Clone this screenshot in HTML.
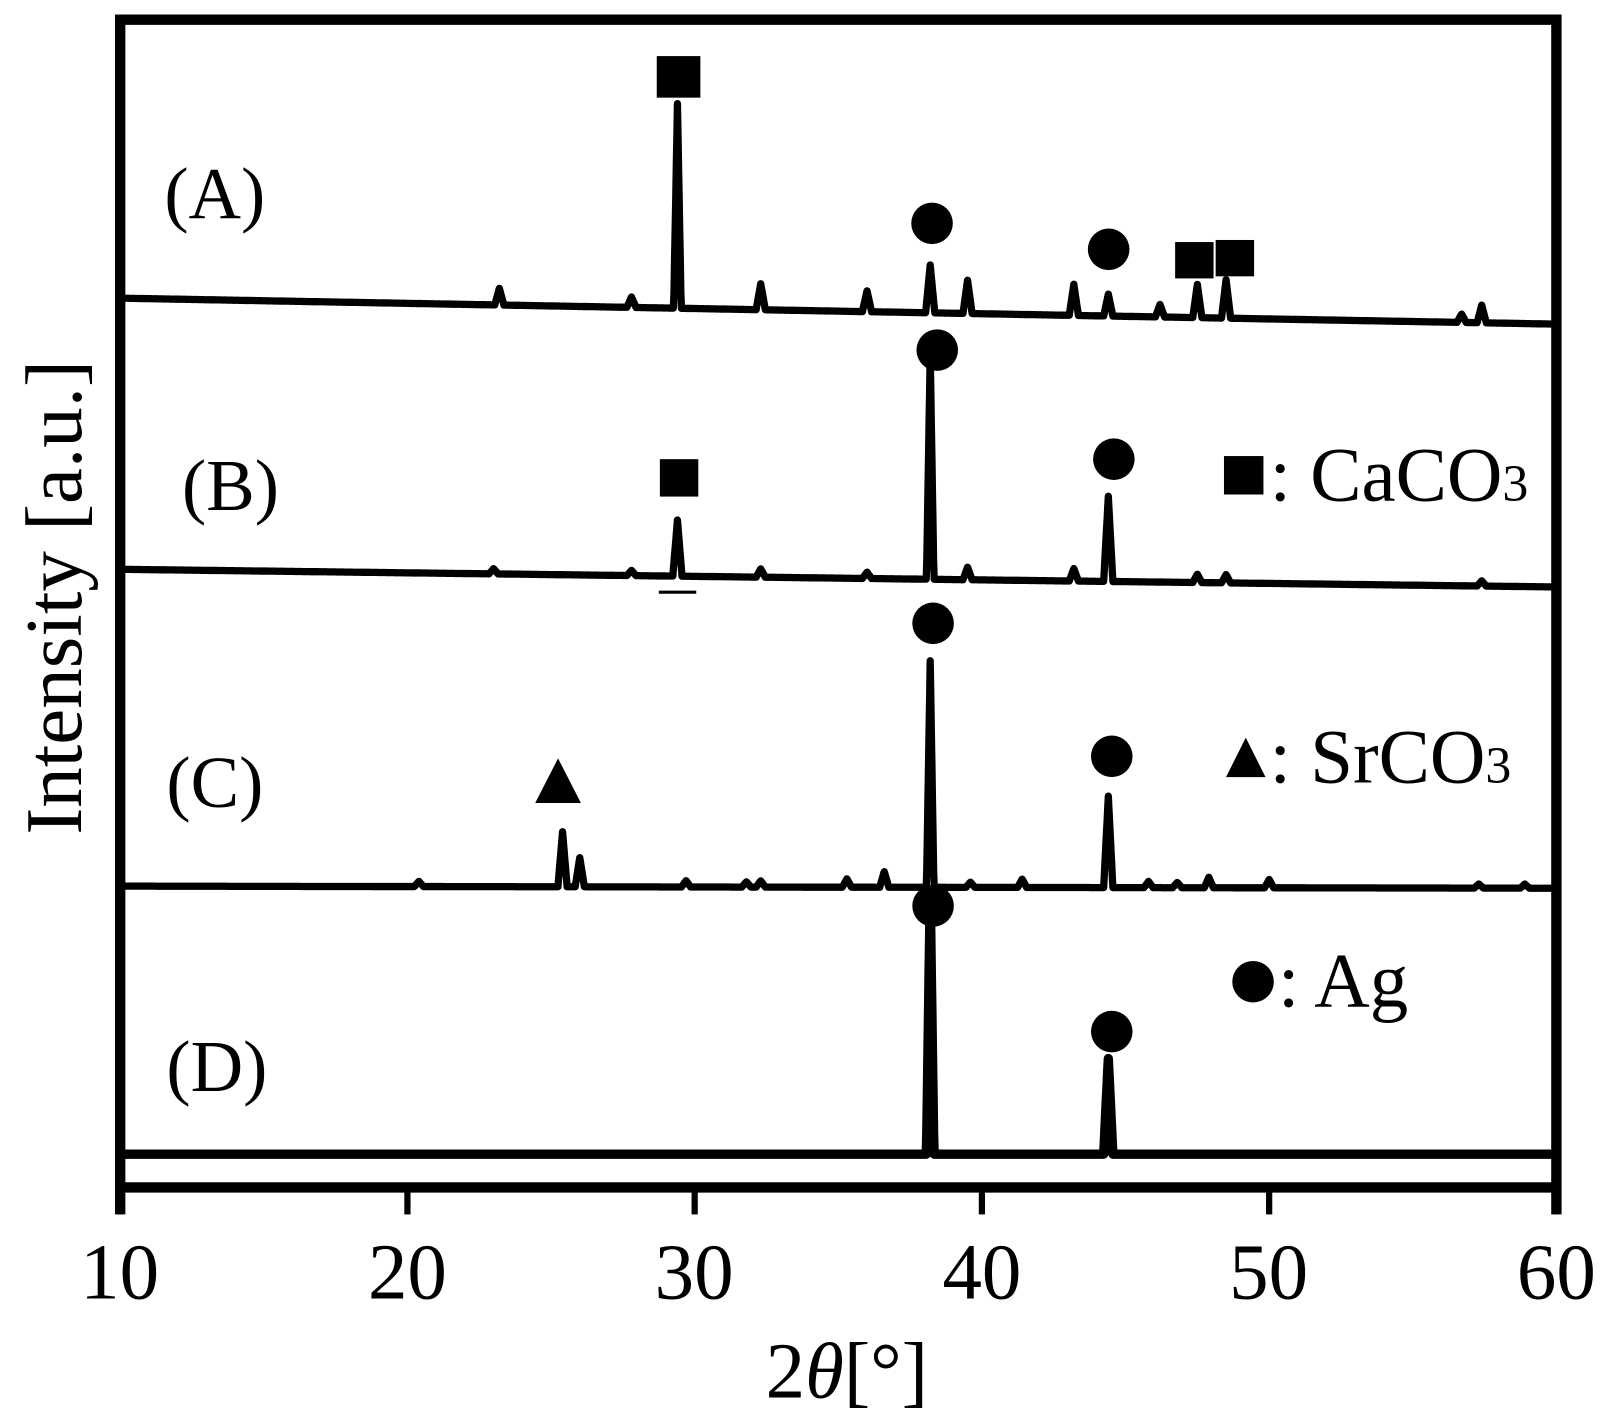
<!DOCTYPE html>
<html><head><meta charset="utf-8">
<style>
html,body{margin:0;padding:0;background:#fff;}
svg{display:block;}
text{font-family:"Liberation Serif",serif;fill:#000;}
</style></head>
<body>
<svg id="s" width="1621" height="1417" viewBox="0 0 1560 1364" xmlns="http://www.w3.org/2000/svg">
<rect x="0" y="0" width="1560" height="1364" fill="#fff"/>
<path d="M115.5,1169 L115.5,19 L1498,19 L1498,1169" fill="none" stroke="#000" stroke-width="10"/>
<line x1="115.5" y1="1143" x2="1498" y2="1143" stroke="#000" stroke-width="10"/>
<g id="ticks" stroke="#000" stroke-width="6"></g>
<g id="series" fill="none" stroke="#000" stroke-linejoin="round"></g>
<line x1="634" y1="570" x2="670" y2="570" stroke="#000" stroke-width="3"/>
<g font-size="76" text-anchor="middle">
<text x="115" y="1250">10</text><text x="392" y="1250">20</text><text x="668" y="1250">30</text>
<text x="945" y="1250">40</text><text x="1221" y="1250">50</text><text x="1498" y="1250">60</text>
</g>
<text x="815" y="1345" font-size="76" text-anchor="middle">2<tspan font-style="italic">θ</tspan>[°]</text>
<text transform="translate(78,575) rotate(-90)" font-size="78" text-anchor="middle">Intensity [a.u.]</text>
<g font-size="70">
<text x="158" y="210">(A)</text><text x="175" y="491">(B)</text>
<text x="160" y="777">(C)</text><text x="160" y="1050">(D)</text>
<text x="1222" y="482" font-size="74">: CaCO<tspan font-size="50">3</tspan></text>
<text x="1222" y="753" font-size="74">: SrCO<tspan font-size="50">3</tspan></text>
<text x="1230" y="969" font-size="74">: Ag</text>
</g>
<g fill="#000">
<rect x="632" y="54" width="42" height="40"/>
<rect x="1131" y="233" width="37" height="35"/>
<rect x="1170" y="231" width="37" height="35"/>
<rect x="635" y="442" width="37" height="36"/>
<rect x="1178" y="439" width="38" height="37"/>
<circle cx="897" cy="215" r="20"/><circle cx="1067" cy="240" r="20"/>
<circle cx="902" cy="337" r="20"/><circle cx="1072" cy="442" r="20"/>
<circle cx="898" cy="600" r="20"/><circle cx="1070" cy="728" r="20"/>
<circle cx="898" cy="872" r="20"/><circle cx="1070" cy="993" r="20"/>
<circle cx="1206" cy="945" r="20"/>
<polygon points="537,730 515,773 559,773"/>
<polygon points="1199,710 1180,748 1218,748"/>
</g>
<script>
(function(){
var X=function(d){return 115.5+(d-10)*27.65;};
var series=[
 {b0:287,b1:312,w:7,pk:[[23.2,16],[27.8,10],[29.4,197],[32.3,25],[36,20],[38.2,46],[39.5,32],[43.2,30],[44.4,21],[46.2,12],[47.5,32],[48.5,37],[56.7,8],[57.4,17]]},
 {b0:548,b1:565,w:7,pk:[[23,5],[27.8,5],[29.4,54],[32.3,8],[36,6],[38.2,217],[39.5,12],[43.2,12],[44.4,82],[47.5,8],[48.5,8],[57.4,5]]},
 {b0:853,b1:855,w:7,pk:[[20.4,5],[25.4,53],[26,28],[29.7,6],[31.8,5],[32.3,6],[35.3,8],[36.6,15],[38.2,218],[39.6,5],[41.4,8],[44.4,88],[45.8,6],[46.8,5],[47.9,10],[50,8],[57.3,4],[58.9,4]]},
 {b0:1111,b1:1111,w:9,pk:[[38.2,252],[44.4,92]]}
];
var g=document.getElementById('series'),ns='http://www.w3.org/2000/svg';
series.forEach(function(s){
 var base=function(d){return s.b0+(s.b1-s.b0)*(d-10)/50;};
 var pts=[];
 for(var d=10;d<=60.001;d+=0.02){
  var y=base(d);
  s.pk.forEach(function(p){var hw=p[1]>100?0.13:0.16;var t=Math.abs(d-p[0])/hw;if(t<1)y-=p[1]*(1-t);});
  pts.push(X(d).toFixed(1)+','+y.toFixed(1));
 }
 var pl=document.createElementNS(ns,'polyline');
 pl.setAttribute('points',pts.join(' '));pl.setAttribute('stroke-width',s.w);
 g.appendChild(pl);
});
var tg=document.getElementById('ticks');
for(var d=10;d<=60;d+=10){var l=document.createElementNS(ns,'line');l.setAttribute('x1',X(d));l.setAttribute('x2',X(d));l.setAttribute('y1',1143);l.setAttribute('y2',1169);tg.appendChild(l);}
})();
</script>
</svg>
</body></html>
